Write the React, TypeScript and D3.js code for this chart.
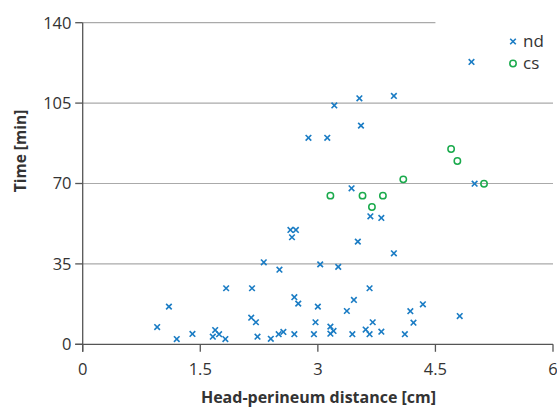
import React from "react";
import * as d3 from "d3";

const ndX = [0.95,1.10,1.20,1.40,1.66,1.69,1.74,1.82,1.83,2.16,2.15,2.21,2.23,2.31,2.40,2.51,2.50,2.56,2.70,2.70,2.75,2.65,2.72,2.67,3.03,3.26,3.00,2.97,2.95,3.16,3.20,3.16,3.37,3.46,3.44,3.66,3.70,3.61,3.66,3.81,3.51,3.97,4.18,4.22,4.34,4.11,4.81,3.21,3.53,3.97,3.55,2.88,3.12,3.43,3.67,3.81,4.96,5.00];
const ndY = [7.5,16.4,2.3,4.5,3.3,6.2,4.4,2.3,24.4,24.4,11.6,9.6,3.3,35.7,2.4,32.5,4.4,5.4,4.4,20.5,17.7,49.8,49.8,46.6,34.8,33.7,16.4,9.6,4.4,7.7,5.8,4.6,14.5,19.3,4.4,24.4,9.6,6.4,4.4,5.5,44.7,39.6,14.4,9.4,17.4,4.4,12.3,104.0,107.1,108.1,95.2,89.9,89.9,67.9,55.7,55.0,122.9,69.9];
const csX = [3.16,3.57,3.83,3.69,4.09,4.70,4.78,5.12];
const csY = [64.7,64.7,64.7,59.8,71.8,85.0,79.8,69.9];
const xTicks = [0,1.5,3,4.5,6];
const yTicks = [0,35,70,105,140];
const xTickLabels = ["0","1.5","3","4.5","6"];
const yTickLabels = ["0","35","70","105","140"];
const seriesNames = ["nd","cs"];

const BLUE = "#1a7cc4";
const GREEN = "#1aaa4c";
const FONT = "'Open Sans', 'Noto Sans', sans-serif";

export default function App() {
  const x = d3.scaleLinear().domain([0, 6]).range([82.7, 553]);
  const y = d3.scaleLinear().domain([0, 140]).range([344.3, 22.7]);
  const cross = (cx: number, cy: number, key: string | number, s = 2.8) => (
    <g key={key} stroke={BLUE} strokeWidth={1.6}>
      <line x1={cx - s} y1={cy - s} x2={cx + s} y2={cy + s} />
      <line x1={cx - s} y1={cy + s} x2={cx + s} y2={cy - s} />
    </g>
  );
  const circ = (cx: number, cy: number, key: string | number) => (
    <circle key={key} cx={cx} cy={cy} r={3.2} fill="none" stroke={GREEN} strokeWidth={1.5} />
  );
  return (
    <svg width={557} height={411} style={{ position: "absolute", left: 0, top: 0, background: "#fff" }} fontFamily={FONT}>
      {yTicks.filter((t) => t > 0).map((t) => (
        <line key={"g" + t} x1={x(0)} x2={t === 140 ? x(4.5) : x(6)} y1={y(t)} y2={y(t)} stroke="#aaaaaa" strokeWidth={1.2} />
      ))}
      <line x1={x(0)} x2={x(0)} y1={y(140)} y2={y(0) + 7.5} stroke="#555" strokeWidth={1.3} />
      <line x1={x(0) - 7.5} x2={x(6)} y1={y(0)} y2={y(0)} stroke="#555" strokeWidth={1.3} />
      {yTicks.map((t, i) => (
        <g key={"yt" + t}>
          <line x1={x(0) - 7.5} x2={x(0)} y1={y(t)} y2={y(t)} stroke="#555" strokeWidth={1.3} />
          <text x={71.5} y={y(t)} dy="0.36em" textAnchor="end" fontSize={16.5} fill="#333">{yTickLabels[i]}</text>
        </g>
      ))}
      {xTicks.map((t, i) => (
        <g key={"xt" + t}>
          <line x1={x(t)} x2={x(t)} y1={y(0)} y2={y(0) + 7.5} stroke="#555" strokeWidth={1.3} />
          <text x={x(t)} y={374.5} textAnchor="middle" fontSize={16.5} fill="#333">{xTickLabels[i]}</text>
        </g>
      ))}
      <text x={318.5} y={403} textAnchor="middle" fontSize={16} fontWeight="bold" fill="#333">Head-perineum distance [cm]</text>
      <text transform="translate(26,151) rotate(-90)" textAnchor="middle" fontSize={15.5} fontWeight="bold" fill="#333">Time [min]</text>
      {ndX.map((v, i) => cross(x(v), y(ndY[i]), "nd" + i))}
      {csX.map((v, i) => circ(x(v), y(csY[i]), "cs" + i))}
      {cross(513, 41.5, "lg1")}
      <text x={523} y={41.5} dy="0.33em" fontSize={17} fill="#333">{seriesNames[0]}</text>
      {circ(513, 63.5, "lg2")}
      <text x={523} y={63.5} dy="0.33em" fontSize={17} fill="#333">{seriesNames[1]}</text>
    </svg>
  );
}
